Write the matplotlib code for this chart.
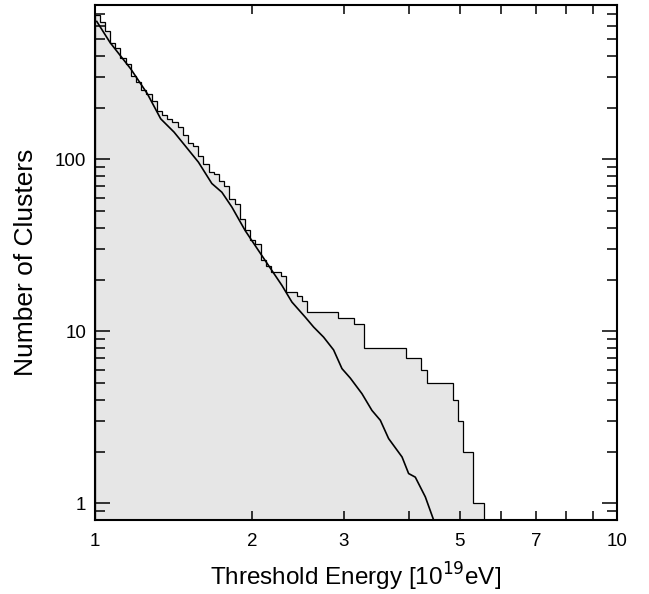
"""Cluster multiplicity above threshold energy: observed steps vs expectation."""

import matplotlib

matplotlib.use("Agg")
import matplotlib.pyplot as plt
import numpy as np
from matplotlib.ticker import FixedLocator, FixedFormatter, NullFormatter

plt.rcParams["font.family"] = ["Liberation Sans", "DejaVu Sans"]

# histogram: cumulative cluster counts in log10(E) bins of fixed width, starting at 1e19 eV
BIN_DEX = 0.00993
CLUSTER_COUNTS = [
    694, 628, 555, 478, 444, 388, 360, 307, 281, 252,
    241, 219, 190, 180, 172, 165, 154, 139, 124, 119,
    105, 94, 85, 82, 75, 70, 59, 55, 45, 39,
    34, 32, 26, 24, 22, 22, 21, 17, 17, 16,
    15, 13, 13, 13, 13, 13, 13, 12, 12, 12,
    11, 11, 8, 8, 8, 8, 8, 8, 8, 8,
    7, 7, 7, 6, 5, 5, 5, 5, 5, 4,
    3, 2, 2, 1, 1,
]

# expected curve
CURVE_ENERGY = [
    1.01, 1.071, 1.173, 1.262, 1.339, 1.420, 1.491, 1.581, 1.677, 1.753,
    1.832, 1.942, 2.060, 2.185, 2.284, 2.387, 2.531, 2.626, 2.744, 2.868,
    2.976, 3.087, 3.250, 3.396, 3.524, 3.655, 3.878, 3.992, 4.111, 4.297,
    4.457,
]
CURVE_CLUSTERS = [
    634, 478, 336, 241, 172, 144, 120, 96.3, 72.4, 64.4,
    52.8, 38.6, 29.5, 22.6, 18.5, 14.8, 12.1, 10.6, 9.26, 7.8,
    6.07, 5.35, 4.34, 3.47, 3.04, 2.38, 1.86, 1.49, 1.42, 1.09,
    0.8,
]

X_TICK_LABELS = {1: "1", 2: "2", 3: "3", 5: "5", 7: "7", 10: "10"}
Y_TICK_LABELS = ["1", "10", "100"]


def main():
    fig = plt.figure(figsize=(6.49, 5.94), dpi=100)
    ax = fig.add_axes([94.5 / 649, 74 / 594, 522.5 / 649, 515 / 594])
    ax.set_xscale("log")
    ax.set_yscale("log")

    counts = np.array(CLUSTER_COUNTS, dtype=float)
    edges = 10 ** (BIN_DEX * np.arange(len(counts) + 1))
    ax.stairs(counts, edges, baseline=0.5, fill=True, color="#e6e6e6", lw=0)
    ax.stairs(counts, edges, baseline=0.5, color="black", lw=0.9)
    ax.plot(CURVE_ENERGY, CURVE_CLUSTERS, color="black", lw=1.2)

    ax.set_xlim(1, 10)
    ax.set_ylim(0.8, 790)

    xt = list(range(1, 11))
    ax.xaxis.set_major_locator(FixedLocator(xt))
    ax.xaxis.set_major_formatter(FixedFormatter([X_TICK_LABELS.get(v, "") for v in xt]))
    ax.xaxis.set_minor_formatter(NullFormatter())
    ax.xaxis.set_minor_locator(FixedLocator([]))
    ax.yaxis.set_major_locator(FixedLocator([1, 10, 100]))
    ax.yaxis.set_major_formatter(FixedFormatter(Y_TICK_LABELS))
    ax.yaxis.set_minor_locator(FixedLocator(
        [m * 10.0 ** e for e in range(-1, 3) for m in range(2, 10)]))
    ax.yaxis.set_minor_formatter(NullFormatter())

    ax.tick_params(axis="both", which="both", direction="in", top=True, right=True,
                   labelsize=13.5, width=1.1, color="black")
    ax.tick_params(axis="x", which="major", length=6.5, pad=9)
    ax.tick_params(axis="y", which="major", length=11, pad=6)
    ax.tick_params(axis="y", which="minor", length=7)
    for spine in ax.spines.values():
        spine.set_linewidth(1.5)

    ax.set_xlabel(r"Threshold Energy [10$^{19}$eV]", fontsize=17.5, labelpad=8)
    ax.set_ylabel("Number of Clusters", fontsize=19, labelpad=12)

    fig.savefig("out.png", dpi=100)
    plt.close(fig)


if __name__ == "__main__":
    main()
